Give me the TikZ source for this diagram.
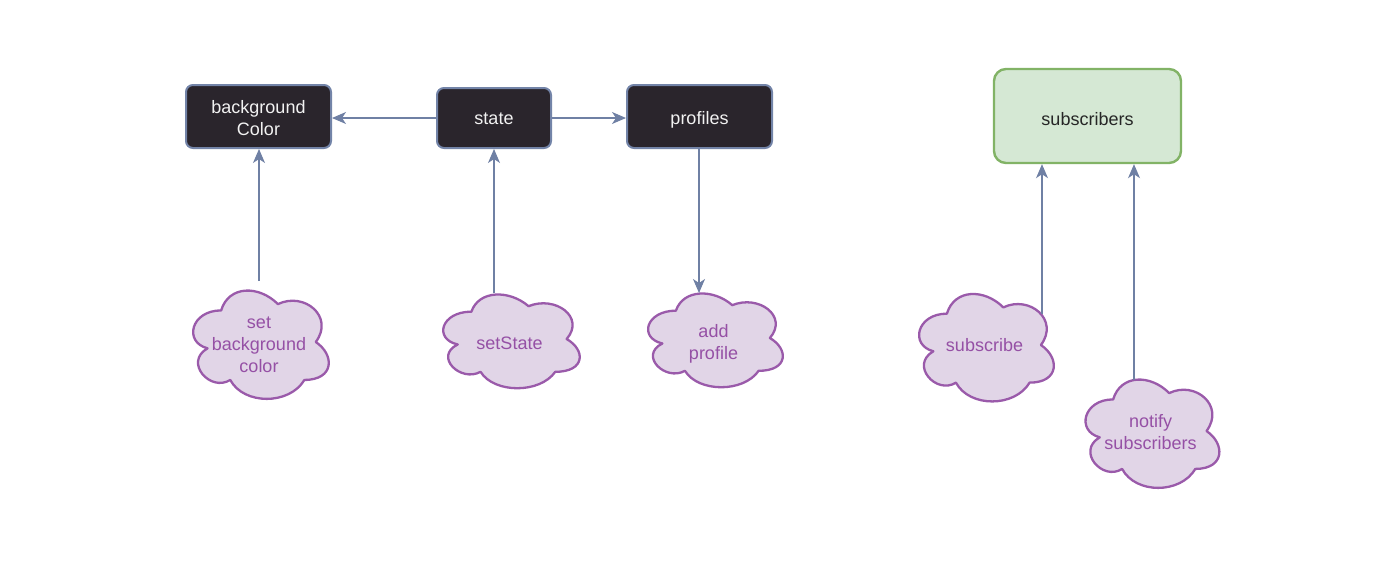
\documentclass[tikz,border=0pt]{standalone}
\usepackage{fontspec}
\setmainfont{Liberation Sans}
\usetikzlibrary{arrows.meta,calc,backgrounds}
\definecolor{boxfill}{HTML}{2A252C}
\definecolor{boxline}{HTML}{7384A8}
\definecolor{boxtext}{HTML}{F2F2F2}
\definecolor{grfill}{HTML}{D5E8D4}
\definecolor{grline}{HTML}{82B366}
\definecolor{cfill}{HTML}{E1D5E7}
\definecolor{cline}{HTML}{9A5AAA}
\definecolor{ctext}{HTML}{9550A5}
\definecolor{arr}{HTML}{6F80A4}
\tikzset{
  basetext/.style={font=\fontsize{18}{22}\selectfont, align=center, inner sep=0pt},
  dtext/.style={basetext, text=boxtext},
  gtext/.style={basetext, text=black!85},
  ctxt/.style={basetext, text=ctext},
  darkbox/.style={draw=boxline, line width=2pt, fill=boxfill, rounded corners=7pt, inner sep=0pt},
  greenbox/.style={draw=grline, line width=2.4pt, fill=grfill, rounded corners=12pt,
    inner sep=0pt, minimum width=187pt, minimum height=94pt},
  cloudnode/.style={inner sep=0pt},
  cloudline/.style={draw=cline, line width=2.3pt, fill=cfill, line join=round},
  conn/.style={draw=arr, line width=1.1pt, -{Stealth[length=14pt,width=12pt,inset=4pt]}},
}
\newcommand\drawcloud[1]{%
  \begin{scope}[on background layer, shift={(#1.north west)},
      x={($(#1.north east)-(#1.north west)$)}, y={($(#1.south west)-(#1.north west)$)}]
    \path[cloudline] (0.25,0.25) .. controls (0.05,0.25) and (0,0.5) .. (0.16,0.55)
      .. controls (0,0.66) and (0.18,0.9) .. (0.31,0.8)
      .. controls (0.4,1) and (0.7,1) .. (0.8,0.8)
      .. controls (1,0.8) and (1,0.6) .. (0.875,0.5)
      .. controls (1,0.3) and (0.8,0.1) .. (0.625,0.2)
      .. controls (0.5,0.05) and (0.3,0.05) .. (0.25,0.25) -- cycle;
  \end{scope}}
\begin{document}
\begin{tikzpicture}[x=1pt,y=-1pt]
\useasboundingbox (0,0) rectangle (1400,582);
\node[darkbox, minimum width=145pt, minimum height=63pt,
  label={[dtext, yshift=-2pt]center:{background\\Color}}] (bg) at (258.5,116.5) {};
\node[darkbox, minimum width=114pt, minimum height=60pt,
  label={[dtext, yshift=-1pt]center:state}] (state) at (494,118) {};
\node[darkbox, minimum width=145pt, minimum height=63pt,
  label={[dtext, yshift=-3pt]center:profiles}] (prof) at (699.5,116.5) {};
\node[greenbox, label={[gtext, yshift=-3pt]center:subscribers}] (subs) at (1087.5,116) {};

\node[cloudnode, minimum width=151pt, minimum height=126pt,
  label={[ctxt, yshift=-3pt]center:{set\\background\\color}}] (setbg) at (259,342) {};
\node[cloudnode, minimum width=152pt, minimum height=109pt,
  label={[ctxt, yshift=-4pt]center:setState}] (sets) at (509.5,339) {};
\node[cloudnode, minimum width=150pt, minimum height=109pt,
  label={[ctxt, yshift=-6pt]center:{add\\profile}}] (addp) at (713.5,338) {};
\node[cloudnode, minimum width=150pt, minimum height=125pt,
  label={[ctxt]center:subscribe}] (subsc) at (984.5,345) {};
\node[cloudnode, minimum width=149pt, minimum height=126pt,
  label={[ctxt, yshift=-1pt]center:{notify\\subscribers}}] (notif) at (1150.5,431) {};
\drawcloud{setbg}
\drawcloud{sets}
\drawcloud{addp}
\drawcloud{subsc}
\drawcloud{notif}

\coordinate (a1) at (259,281);
\coordinate (a2) at (494,293);
\coordinate (a3) at (1042,314);
\coordinate (a4) at (1134,380);
\coordinate (a5) at (699,293);

\draw[conn] (state.west) -- (state.west -| bg.east);
\draw[conn] (state.east) -- (state.east -| prof.west);
\draw[conn] (a1) -- (a1 |- bg.south);
\draw[conn] (a2) -- (a2 |- state.south);
\draw[conn] (prof.south -| a5) -- (a5);
\draw[conn] (a3) -- (a3 |- subs.south);
\draw[conn] (a4) -- (a4 |- subs.south);
\end{tikzpicture}
\end{document}
